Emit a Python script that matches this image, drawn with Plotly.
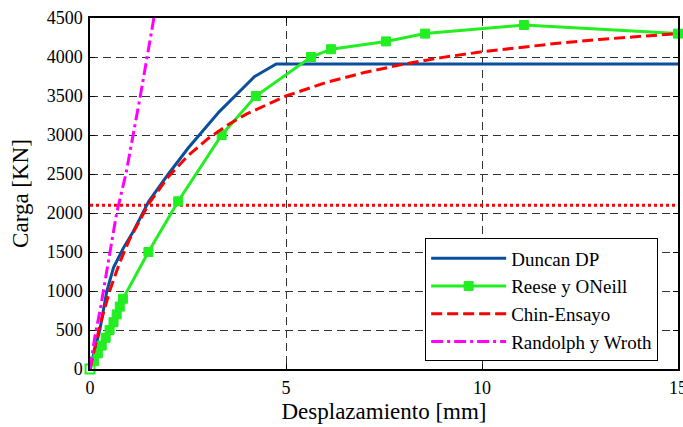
import plotly.graph_objects as go

# Duncan DP
duncan_x = [0, 0.12, 0.25, 0.43, 0.6, 0.85, 1.1, 1.5, 2.0, 2.5, 3.0, 3.3, 3.7, 4.2, 4.75, 15]
duncan_y = [0, 250, 500, 1000, 1300, 1550, 1760, 2150, 2500, 2830, 3120, 3300, 3500, 3750, 3910, 3910]

# Reese y ONeill
reese_x = [0, 0.1, 0.2, 0.3, 0.4, 0.5, 0.6, 0.68, 0.76, 0.84, 1.49, 2.25, 3.36, 4.23, 5.64, 6.15, 7.55, 8.55, 11.07, 15]
reese_y = [0, 100, 200, 300, 400, 500, 600, 700, 800, 900, 1500, 2150, 3000, 3500, 4000, 4100, 4200, 4300, 4410, 4300]

# Chin-Ensayo
chin_x = [0, 0.25, 0.5, 0.75, 1.0, 1.5, 2.0, 2.5, 3.0, 3.5, 4.0, 5.0, 6.0, 7.0, 8.0, 9.0, 10, 11, 12, 13, 14, 15]
chin_y = [0, 555, 996, 1355, 1653, 2119, 2466, 2735, 2950, 3125, 3271, 3500, 3670, 3802, 3908, 3995, 4067, 4128, 4180, 4225, 4264, 4300]

# Randolph y Wroth
rand_x = [0, 0.13, 0.26, 0.51, 0.68, 0.92, 1.28, 1.63]
rand_y = [0, 430, 760, 1530, 2000, 2510, 3490, 4500]

# Horizontal reference load
ref_x = [0, 15]
ref_y = [2100, 2100]

x_ticks = [0, 5, 10, 15]
y_ticks = [0, 500, 1000, 1500, 2000, 2500, 3000, 3500, 4000, 4500]

SERIF = "Liberation Serif"
GREEN = "#22ee22"

fig = go.Figure()

fig.add_trace(go.Scatter(x=ref_x, y=ref_y, mode="lines", showlegend=False,
                         line=dict(color="#ff0000", width=3, dash="3px,3px")))

fig.add_trace(go.Scatter(x=duncan_x, y=duncan_y, mode="lines", name="Duncan DP",
                         legendgroup="a", line=dict(color="#0a4f9e", width=3)))

fig.add_trace(go.Scatter(x=reese_x[1:], y=reese_y[1:], mode="lines+markers", name="Reese y ONeill",
                         legendgroup="b", cliponaxis=False,
                         line=dict(color=GREEN, width=3),
                         marker=dict(symbol="square", size=9, color=GREEN,
                                     line=dict(color=GREEN, width=1))))
fig.add_trace(go.Scatter(x=reese_x[:2], y=reese_y[:2], mode="lines", showlegend=False,
                         legendgroup="b", line=dict(color=GREEN, width=3)))
fig.add_trace(go.Scatter(x=reese_x[:1], y=reese_y[:1], mode="markers", showlegend=False,
                         legendgroup="b", cliponaxis=False,
                         marker=dict(symbol="square-open", size=9, color=GREEN,
                                     line=dict(color=GREEN, width=2))))

fig.add_trace(go.Scatter(x=chin_x, y=chin_y, mode="lines", name="Chin-Ensayo",
                         legendgroup="c", line=dict(color="#ff0000", width=3, dash="11px,5px")))

fig.add_trace(go.Scatter(x=rand_x, y=rand_y, mode="lines", name="Randolph y Wroth",
                         legendgroup="d", line=dict(color="#ff00ff", width=3, dash="12px,4px,3px,4px")))

axis_common = dict(showline=True, linecolor="black", linewidth=1.5, mirror="allticks",
                   ticks="inside", ticklen=5, tickcolor="black",
                   showgrid=True, gridcolor="#333333", gridwidth=1, griddash="8px,5px",
                   zeroline=False, ticklabeloverflow="allow", automargin=False,
                   tickfont=dict(family=SERIF, size=18, color="black"))

fig.update_xaxes(range=[0, 15], tickvals=x_ticks, ticklabelstandoff=2,
                 title=dict(text="Desplazamiento [mm]", font=dict(family=SERIF, size=23, color="black"),
                            standoff=6),
                 **axis_common)
fig.update_yaxes(range=[0, 4500], tickvals=y_ticks, ticklabelstandoff=2,
                 title=dict(text="Carga [KN]", font=dict(family=SERIF, size=23, color="black"),
                            standoff=12),
                 **axis_common)

fig.update_layout(
    width=683, height=427,
    margin=dict(l=90, r=5, t=18, b=58),
    paper_bgcolor="white", plot_bgcolor="white",
    font=dict(family=SERIF, color="black"),
    legend=dict(x=0.57, y=0.372, xanchor="left", yanchor="top",
                bordercolor="black", borderwidth=1, bgcolor="white",
                font=dict(family=SERIF, size=19, color="black"),
                traceorder="grouped", tracegroupgap=0, itemwidth=75),
)

fig.write_html("out.html")
